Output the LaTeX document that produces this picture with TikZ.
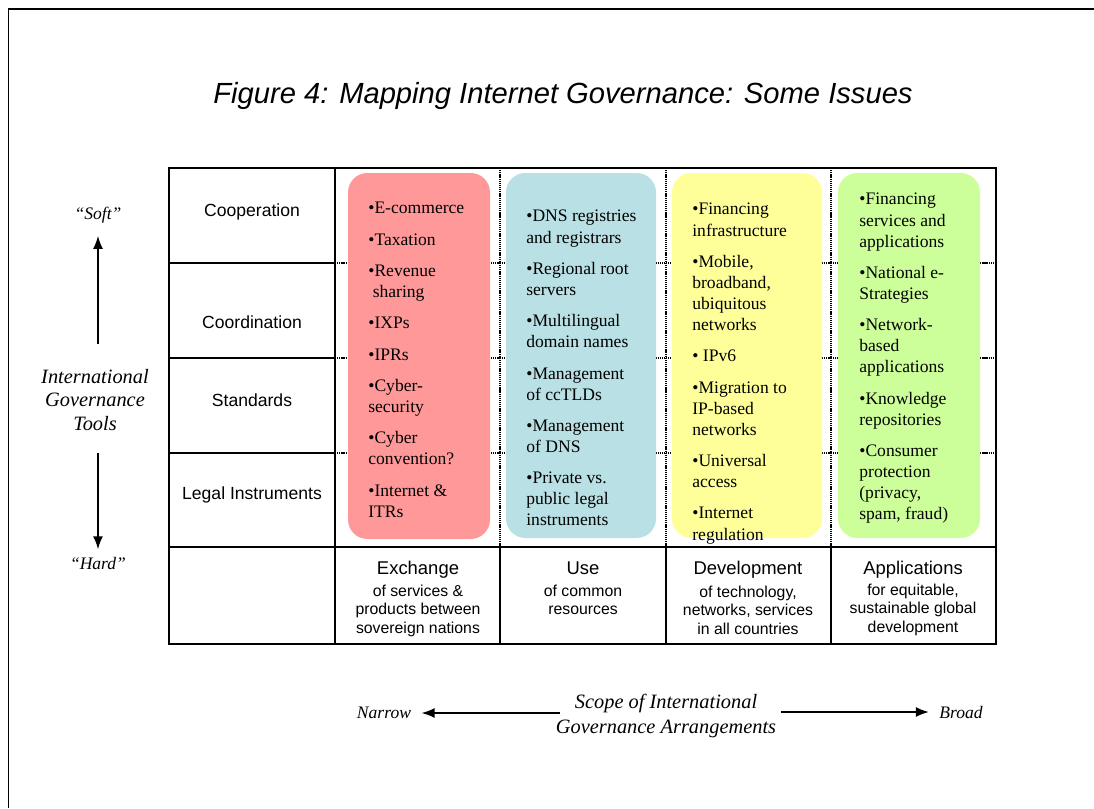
\documentclass[tikz,border=0pt]{standalone}
\usepackage{fontspec}
\setmainfont{Liberation Serif}
\setsansfont{Liberation Sans}
\usetikzlibrary{positioning,arrows.meta}
\definecolor{exchred}{RGB}{255,153,153}
\definecolor{usecyan}{RGB}{185,224,228}
\definecolor{devyellow}{RGB}{255,255,153}
\definecolor{appgreen}{RGB}{204,255,153}
\tikzset{
  solidgrid/.style={line width=0.8pt},
  softgrid/.style={line width=1.3pt, dash pattern=on 0.7pt off 0.5pt},
  issuebox/.style={rounded corners=11pt},
  issuetext/.style={anchor=north west, align=left, inner sep=0pt, font=\fontsize{10}{12}\selectfont},
  rowlabel/.style={inner sep=0pt, font=\sffamily\fontsize{10}{12}\selectfont},
  scopehead/.style={anchor=base, inner sep=0pt, font=\sffamily\fontsize{10.5}{12}\selectfont},
  scopesub/.style={anchor=north, align=center, inner sep=0pt, font=\sffamily\fontsize{9}{10.5}\selectfont},
  axislabel/.style={align=center, inner sep=0pt, font=\itshape\fontsize{11.6}{13.6}\selectfont},
  endlabel/.style={inner sep=0pt, font=\itshape\fontsize{10}{12}\selectfont},
  axis/.style={-{Latex[length=7.5pt,width=5.7pt]}, line width=1.1pt},
}

\begin{document}
\begin{tikzpicture}[x=0.02cm, y=-0.02cm]
  \useasboundingbox (0,0) rectangle (1094,808);
  % page frame
  \draw[line width=1.1pt] (8.5,808) -- (8.5,9) -- (1094,9);

  \node[font=\sffamily\itshape\fontsize{16.6}{19}\selectfont] (title) at (563,96)
    {Figure 4: Mapping Internet Governance: Some Issues};

  % dotted inner grid
  \foreach \x in {500,666,831}
    \draw[softgrid] (\x,168) -- (\x,547);
  \foreach \y in {263,358,453}
    \draw[softgrid] (335,\y) -- (996,\y);

  % issue boxes
  \fill[issuebox, exchred]   (348,173) rectangle (490,539);
  \fill[issuebox, usecyan]   (506,173) rectangle (656,538);
  \fill[issuebox, devyellow] (672,173) rectangle (822,538);
  \fill[issuebox, appgreen]  (838,173) rectangle (980,538);

  % solid grid
  \draw[solidgrid] (169,168) rectangle (996,644);
  \draw[solidgrid] (335,168) -- (335,644);
  \draw[solidgrid] (169,547) -- (996,547);
  \foreach \y in {263,358,453}
    \draw[solidgrid] (169,\y) -- (335,\y);
  \foreach \x in {500,666,831}
    \draw[solidgrid] (\x,547) -- (\x,644);

  % tools
  \node[rowlabel] (coop)  at (252,212) {Cooperation};
  \node[rowlabel] (coord) at (252,322) {Coordination};
  \node[rowlabel] (stand) at (252,400) {Standards};
  \node[rowlabel] (legal) at (252,495) {Legal Instruments};

  % issues
  \node[issuetext] (exchissues) at (368,202)
    {•E-commerce\\[5.8pt] •Taxation\\[5.8pt] •Revenue\\ \ sharing\\[5.8pt] •IXPs\\[5.8pt] •IPRs\\[5.8pt]
     •Cyber-\\ security\\[5.8pt] •Cyber\\ convention?\\[5.8pt] •Internet \&\\ ITRs};
  \node[issuetext] (useissues) at (526,210)
    {•DNS registries\\ and registrars\\[5.8pt] •Regional root\\ servers\\[5.8pt] •Multilingual\\ domain names\\[5.8pt]
     •Management\\ of ccTLDs\\[5.8pt] •Management\\ of DNS\\[5.8pt] •Private vs.\\ public legal\\ instruments};
  \node[issuetext] (devissues) at (692,203)
    {•Financing\\ infrastructure\\[5.8pt] •Mobile,\\ broadband,\\ ubiquitous\\ networks\\[5.8pt] • IPv6\\[5.8pt]
     •Migration to\\ IP-based\\ networks\\[5.8pt] •Universal\\ access\\[5.8pt] •Internet\\ regulation};
  \node[issuetext] (appissues) at (859,193)
    {•Financing\\ services and\\ applications\\[5.8pt] •National e-\\ Strategies\\[5.8pt] •Network-\\ based\\ applications\\[5.8pt]
     •Knowledge\\ repositories\\[5.8pt] •Consumer\\ protection\\ (privacy,\\ spam, fraud)};

  % scope columns
  \node[scopehead] (exchange) at (418,574) {Exchange};
  \node[scopesub] (exchangesub) at (418,584.5) {of services \&\\ products between\\ sovereign nations};
  \node[scopehead] (use) at (583,574) {Use};
  \node[scopesub] (usesub) at (583,584.5) {of common\\ resources};
  \node[scopehead] (develop) at (748,574) {Development};
  \node[scopesub] (developsub) at (748,585.5) {of technology,\\ networks, services\\ in all countries};
  \node[scopehead] (apps) at (913,574) {Applications};
  \node[scopesub] (appssub) at (913,583.5) {for equitable,\\ sustainable global\\ development};

  % vertical axis
  \node[endlabel] (soft)  at (98,215) {“Soft”};
  \node[axislabel] (tools) at (95,400) {International\\ Governance\\ Tools};
  \node[endlabel] (hard)  at (98,563) {“Hard”};
  \draw[axis, shorten <=14pt, shorten >=7pt] (tools.north -| soft.south) -- (soft.south);
  \draw[axis, shorten <=12pt, shorten >=4pt] (tools.south -| hard.north) -- (hard.north);

  % horizontal axis
  \node[axislabel, font=\itshape\fontsize{11.6}{14.2}\selectfont] (scope) at (666,716)
    {Scope of International\\ Governance Arrangements};
  \node[endlabel] (narrow) at (384,713) {Narrow};
  \node[endlabel] (broad)  at (961,712) {Broad};
  \draw[axis, shorten <=-2.3pt, shorten >=5.7pt] (scope.west |- narrow) -- (narrow.east);
  \draw[axis, shorten <=2.8pt, shorten >=5.7pt] (scope.east |- broad) -- (broad.west);
\end{tikzpicture}
\end{document}
